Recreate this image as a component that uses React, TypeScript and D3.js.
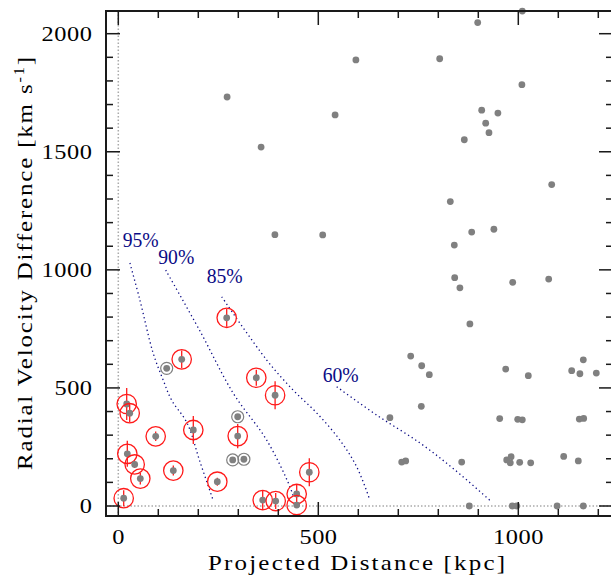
import React from "react";
import * as d3 from "d3";

// ---- data ----
const grayX = [1010, 898.5, 803.5, 1009, 908.5, 949, 918.5, 926.7, 865, 1083.5, 830, 883.5, 939, 840,
  272, 357, 542, 594, 391.5, 511,
  841, 854, 986, 1076, 879, 731, 758.5, 777.5, 968.5, 1025, 1133.5, 1162.5, 1154, 1195,
  757.5, 679, 953.5, 998.5, 1010, 1152.5, 1163.5,
  708.5, 718.5, 858.5, 971, 982, 980, 1003.5, 1031, 1113.5, 1150,
  877.5, 985, 996, 1097, 1162.5];
const grayY = [2096, 2047, 1894, 1784, 1676, 1664, 1621, 1581, 1551, 1361, 1289, 1160, 1172, 1105,
  1732, 1520, 1656, 1889, 1149, 1148,
  967, 924, 947, 961, 771, 635, 594, 556, 580, 552, 573, 619, 560, 563,
  422, 374, 370, 367, 365, 368, 371,
  186, 191, 186, 195, 209, 183, 185, 183, 210, 191,
  0, 0, 0, 0, 0];

const redX = [21, 28.5, 93.5, 187.5, 298.5, 392, 22.5, 41, 55, 137.5, 247.5, 13.5, 361, 393.5, 446, 446, 477.5, 271, 158.5, 345];
const redY = [432, 393, 295, 322, 296, 469, 221, 176, 116, 150, 103, 33, 25, 21, 51, 4, 143, 797, 621, 543];
const redErr = [68, 38, 20, 59, 51, 59, 55, 15, 25, 21, 17, 34, 42, 34, 42, 10, 59, 38, 38, 34];

const ringX = [121, 298.5, 286, 314];
const ringY = [583, 378, 195, 198];

const c95x = [29, 54, 87, 112, 133, 172, 204, 237];
const c95y = [1029, 872, 648, 534, 449, 351, 188, 25];
const c90x = [118.5, 204.5, 287.5, 371, 429, 437.5];
const c90y = [999, 740, 477, 279, 82, 39];
const c85x = [258.5, 371, 437, 496, 554, 596, 629];
const c85y = [886, 618, 491, 394, 279, 166, 25];
const c60x = [546, 646, 754, 842, 933];
const c60y = [505, 385, 267, 152, 18];

const contourLabels = ["95%", "90%", "85%", "60%"];
const labelX = [11, 100, 221, 511];
const labelY = [1097, 1025, 944, 524];

const xTickLabels = ["0", "500", "1000"];
const yTickLabels = ["0", "500", "1000", "1500", "2000"];

export default function App() {
  const W = 611, H = 581;
  const L = 106, T = 11, R = 613, B = 516;
  const x = d3.scaleLinear().domain([0, 1000]).range([118.3, 518.3]);
  const y = d3.scaleLinear().domain([0, 2000]).range([506, 33.7]);
  const font = "'Liberation Serif', 'Times New Roman', serif";
  const gray = "#808080";
  const navy = "#0b0b85";
  const SX = 1.16;

  const line = d3.line<[number, number]>().x(d => x(d[0])).y(d => y(d[1])).curve(d3.curveCatmullRom.alpha(0.5));
  const curves = [[c95x, c95y], [c90x, c90y], [c85x, c85y], [c60x, c60y]].map(([xs, ys]) =>
    line(xs.map((v, i) => [v, ys[i]] as [number, number])) || "");

  const xMinor = d3.range(0, 1201, 100);
  const yMinor = d3.range(0, 2001, 100);
  const axisColor = "#1a1a1a";

  return (
    <svg width={W} height={H} style={{ position: "absolute", left: 0, top: 0, background: "#fff" }}>
      {/* dotted zero lines */}
      <line x1={x(0)} x2={x(0)} y1={T} y2={B} stroke="#aaa" strokeWidth={1.5} strokeDasharray="1.5 2" />
      <line x1={L} x2={R} y1={y(0)} y2={y(0)} stroke="#aaa" strokeWidth={1.5} strokeDasharray="1.5 2" />

      {/* contours */}
      {curves.map((d, i) => (
        <path key={i} d={d} fill="none" stroke={navy} strokeWidth={1.3} strokeDasharray="1.3 3" />
      ))}
      {contourLabels.map((t, i) => (
        <text key={t} x={x(labelX[i])} y={y(labelY[i])} fontFamily={font} fontSize={20.5} fill={navy}
          textLength={36} lengthAdjust="spacingAndGlyphs">{t}</text>
      ))}

      {/* gray points */}
      {grayX.map((v, i) => (
        <circle key={"g" + i} cx={x(v)} cy={y(grayY[i])} r={3.4} fill={gray} />
      ))}
      {/* gray ringed points */}
      {ringX.map((v, i) => (
        <g key={"r" + i}>
          <circle cx={x(v)} cy={y(ringY[i])} r={3.4} fill={gray} />
          <circle cx={x(v)} cy={y(ringY[i])} r={6} fill="none" stroke={gray} strokeWidth={1.2} />
        </g>
      ))}
      {/* red circled points */}
      {redX.map((v, i) => (
        <g key={"c" + i}>
          <line x1={x(v)} x2={x(v)} y1={y(redY[i] - redErr[i])} y2={y(redY[i] + redErr[i])} stroke="#ff1a1a" strokeWidth={1.3} />
          <circle cx={x(v)} cy={y(redY[i])} r={3.4} fill={gray} />
          <circle cx={x(v)} cy={y(redY[i])} r={9.7} fill="none" stroke="#ff1a1a" strokeWidth={1.3} />
        </g>
      ))}

      {/* frame */}
      <rect x={L} y={T} width={R - L} height={B - T} fill="none" stroke={axisColor} strokeWidth={2} />
      {xMinor.map(v => {
        const len = v % 500 === 0 ? 14 : 7;
        return (
          <g key={"xt" + v}>
            <line x1={x(v)} x2={x(v)} y1={B} y2={B - len} stroke={axisColor} strokeWidth={1.5} />
            <line x1={x(v)} x2={x(v)} y1={T} y2={T + len} stroke={axisColor} strokeWidth={1.5} />
          </g>
        );
      })}
      {yMinor.map(v => {
        const len = v % 500 === 0 ? 14 : 7;
        return (
          <g key={"yt" + v}>
            <line x1={L} x2={L + len} y1={y(v)} y2={y(v)} stroke={axisColor} strokeWidth={1.5} />
            <line x1={R} x2={R - len} y1={y(v)} y2={y(v)} stroke={axisColor} strokeWidth={1.5} />
          </g>
        );
      })}
      {xTickLabels.map(v => (
        <g key={"xl" + v} transform={`translate(${x(+v)},543.5) scale(${SX},1)`}>
          <text x={0} y={0} textAnchor="middle" fontFamily={font} fontSize={21} fill="#000"
            textLength={(v.length * 13 - 1.5) / SX} lengthAdjust="spacing">{v}</text>
        </g>
      ))}
      {yTickLabels.map(v => (
        <g key={"yl" + v} transform={`translate(92,${y(+v) + 7}) scale(${SX},1)`}>
          <text x={0} y={0} textAnchor="end" fontFamily={font} fontSize={21} fill="#000"
            textLength={(v.length * 13 - 1.5) / SX} lengthAdjust="spacing">{v}</text>
        </g>
      ))}
      <g transform={`translate(356.5,569.5) scale(${SX},1)`}>
        <text x={0} y={0} textAnchor="middle" fontFamily={font} fontSize={21.5} fill="#000"
          textLength={297 / SX} lengthAdjust="spacing">Projected Distance [kpc]</text>
      </g>
      <g transform={`translate(32,263.5) rotate(-90) scale(${SX},1)`}>
        <text x={0} y={0} textAnchor="middle" fontFamily={font} fontSize={21.5} fill="#000"
          textLength={413 / SX} lengthAdjust="spacing">
          Radial Velocity Difference [km s<tspan dy={-8} fontSize={14}>-1</tspan><tspan dy={8}>]</tspan>
        </text>
      </g>
    </svg>
  );
}
